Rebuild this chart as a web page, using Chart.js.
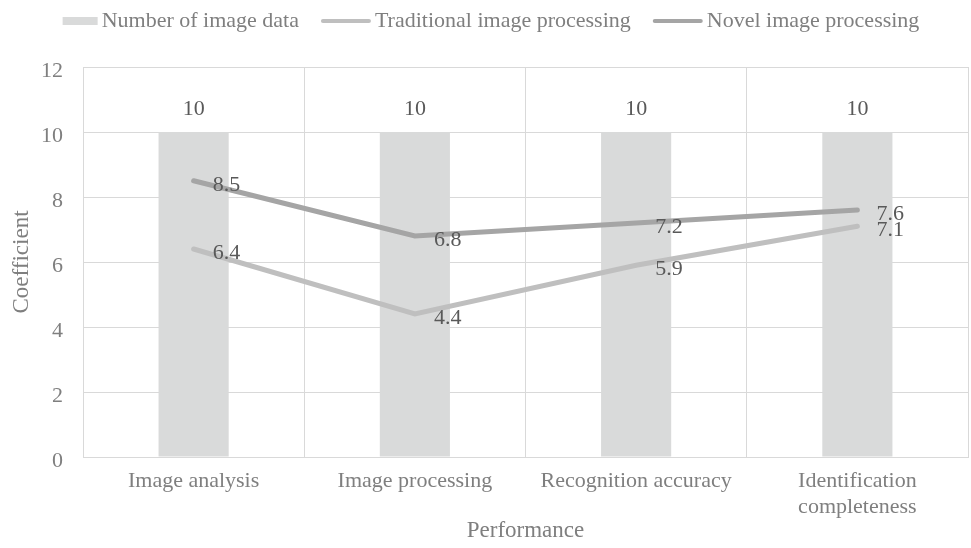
<!DOCTYPE html>
<html>
<head>
<meta charset="utf-8">
<script src="https://cdn.jsdelivr.net/npm/chart.js@4.4.1/dist/chart.umd.min.js"></script>
<style>
  html, body { margin: 0; padding: 0; background: #fff; }
</style>
</head>
<body>
<canvas id="chart" width="971" height="548"></canvas>
<script>
// data
const categories = ['Image analysis', 'Image processing', 'Recognition accuracy', ['Identification', 'completeness']];
const imageCount = [10, 10, 10, 10];
const traditional = [6.4, 4.4, 5.9, 7.1];
const novel = [8.5, 6.8, 7.2, 7.6];
const yMin = 0, yMax = 12, yStep = 2;

const FONT = '"Liberation Serif", "Times New Roman", serif';
Chart.defaults.font.family = FONT;
Chart.defaults.color = '#7f7f7f';

// value labels (10 above bars, line values to the right of each point)
const valueLabels = {
  id: 'valueLabels',
  afterDatasetsDraw(chart) {
    const ctx = chart.ctx;
    ctx.save();
    ctx.font = '22px ' + FONT;
    ctx.fillStyle = '#595959';
    chart.data.datasets.forEach((ds, i) => {
      const meta = chart.getDatasetMeta(i);
      meta.data.forEach((el, j) => {
        const v = ds.data[j];
        ctx.textBaseline = 'middle';
        if (ds.type === 'bar') {
          ctx.textAlign = 'center';
          ctx.fillText(String(v), el.x, el.y - 23);
        } else {
          ctx.textAlign = 'left';
          ctx.fillText(v.toFixed(1), el.x + 19, el.y + 4);
        }
      });
    });
    ctx.restore();
  }
};

// legend drawn by hand so the symbols match the original
const topLegend = {
  id: 'topLegend',
  afterDraw(chart) {
    const ctx = chart.ctx;
    ctx.save();
    ctx.font = '22px ' + FONT;
    ctx.textBaseline = 'middle';
    ctx.textAlign = 'left';
    const y = 21;
    const items = chart.data.datasets.map(ds => ({
      label: ds.label,
      bar: ds.type === 'bar',
      color: ds.type === 'bar' ? ds.backgroundColor : ds.borderColor,
      symW: ds.type === 'bar' ? 35 : 50
    }));
    const gap = 4, spacing = 22;
    let total = 0;
    items.forEach((it, k) => {
      it.textW = ctx.measureText(it.label).width;
      total += it.symW + gap + it.textW + (k ? spacing : 0);
    });
    let x = 491 - total / 2;
    items.forEach(it => {
      if (it.bar) {
        ctx.fillStyle = it.color;
        ctx.fillRect(x, y - 4, it.symW, 8);
      } else {
        ctx.strokeStyle = it.color;
        ctx.lineWidth = 4;
        ctx.lineCap = 'round';
        ctx.beginPath();
        ctx.moveTo(x + 2, y);
        ctx.lineTo(x + it.symW - 2, y);
        ctx.stroke();
      }
      x += it.symW + gap;
      ctx.fillStyle = '#7f7f7f';
      ctx.fillText(it.label, x, y);
      x += it.textW + spacing;
    });
    ctx.restore();
  }
};

new Chart(document.getElementById('chart'), {
  data: {
    labels: categories,
    datasets: [
      {
        type: 'bar', label: 'Number of image data', data: imageCount,
        backgroundColor: '#d9dada', categoryPercentage: 1, barPercentage: 0.317, order: 2
      },
      {
        type: 'line', label: 'Traditional image processing', data: traditional,
        borderColor: '#bfbfbf', borderWidth: 5, pointRadius: 0, borderCapStyle: 'round',
        fill: false, order: 1
      },
      {
        type: 'line', label: 'Novel image processing', data: novel,
        borderColor: '#a5a5a5', borderWidth: 5, pointRadius: 0, borderCapStyle: 'round',
        fill: false, order: 0
      }
    ]
  },
  options: {
    responsive: false,
    animation: false,
    devicePixelRatio: 1,
    layout: { padding: { top: 67, right: 3, left: 0, bottom: 0 } },
    plugins: { legend: { display: false }, tooltip: { enabled: false } },
    scales: {
      x: {
        offset: true,
        grid: { color: '#d9d9d9', offset: true, drawTicks: false },
        border: { color: '#d9d9d9' },
        ticks: { font: { size: 22 }, color: '#7f7f7f', padding: 11, maxRotation: 0, autoSkip: false },
        title: { display: true, text: 'Performance', font: { size: 23 }, color: '#7f7f7f', padding: 3 },
        afterFit(scale) { scale.height = 91; }
      },
      y: {
        min: yMin, max: yMax,
        grid: { color: '#d9d9d9', drawTicks: false },
        border: { display: false },
        ticks: { stepSize: yStep, font: { size: 22 }, color: '#7f7f7f', padding: 20, labelOffset: 4 },
        title: { display: true, text: 'Coefficient', font: { size: 23 }, color: '#7f7f7f', padding: 8 },
        afterFit(scale) { scale.width = 83; }
      }
    }
  },
  plugins: [valueLabels, topLegend]
});
</script>
</body>
</html>
